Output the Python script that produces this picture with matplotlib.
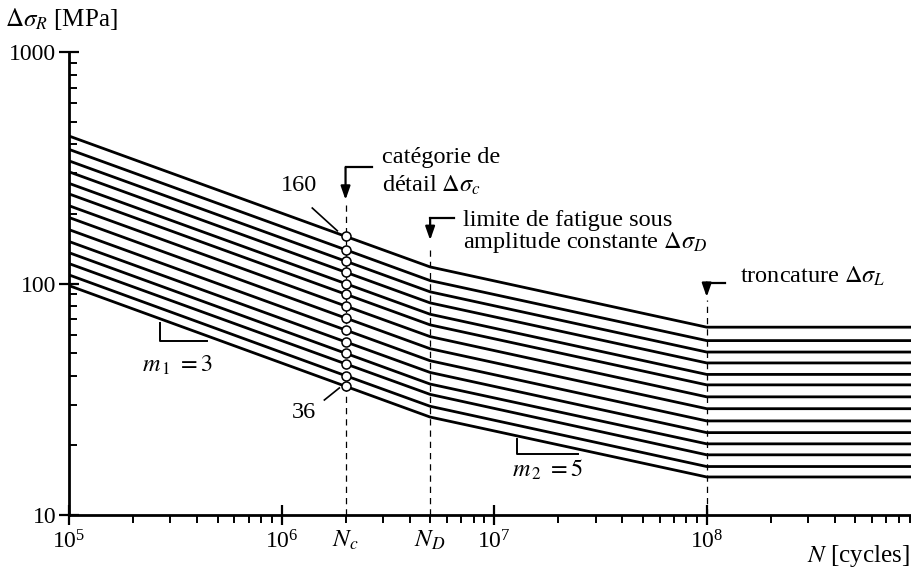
import matplotlib
matplotlib.use("Agg")
import matplotlib.pyplot as plt
from matplotlib.ticker import LogLocator, FixedLocator, FixedFormatter, NullFormatter

plt.rcParams['font.family'] = ['Liberation Serif', 'DejaVu Serif']
plt.rcParams['mathtext.fontset'] = 'stix'

# detail categories and the stress ranges at the curve break points
categories = [160, 140, 125, 112, 100, 90, 80, 71, 63, 56, 50, 45, 40, 36]
sigma_1e5 = [434, 380, 339, 304, 271, 244, 217, 193, 171, 152, 136, 122, 109, 98]
sigma_D = [118, 103, 92.1, 82.5, 73.7, 66.3, 59.0, 52.3, 46.4, 41.3, 36.8, 33.2, 29.5, 26.5]
sigma_L = [64.8, 56.7, 50.6, 45.4, 40.5, 36.5, 32.4, 28.8, 25.5, 22.7, 20.3, 18.2, 16.2, 14.6]
N_break = [1e5, 2e6, 5e6, 1e8, 1e9]
N_c, N_D, N_L = 2e6, 5e6, 1e8

fig = plt.figure(figsize=(9.11, 5.79), dpi=100)
ax = fig.add_axes([0.0757, 0.1105, 0.9243, 0.7995])

for s0, sc, sd, sl in zip(sigma_1e5, categories, sigma_D, sigma_L):
    ax.plot(N_break, [s0, sc, sd, sl, sl], color='black', lw=2.0, solid_joinstyle='round')

ax.plot([N_c] * len(categories), categories, 'o', ms=6.5, mfc='white', mec='black', mew=1.1, zorder=5)

# dashed reference lines
for n, top in [(N_c, 218), (N_D, 147), (N_L, 85)]:
    ax.plot([n, n], [10, top], color='black', lw=0.9, ls=(0, (5, 4)))

# elbow arrows
arrows = [((2.65e6, 318), (N_c, 318), (N_c, 230)),
          ((6.5e6, 192), (N_D, 192), (N_D, 154)),
          ((1.22e8, 101), (N_L, 101), (N_L, 87.5))]
for a, b, c in arrows:
    ax.plot([a[0], b[0]], [a[1], b[1]], color='black', lw=1.6, solid_capstyle='projecting')
    ax.annotate('', xy=c, xytext=b,
                arrowprops=dict(arrowstyle='-|>,head_length=0.8,head_width=0.28',
                                color='black', lw=1.6, mutation_scale=10,
                                shrinkA=0, shrinkB=0))

fs = 17.5
ax.text(2.98e6, 352, 'catégorie de', fontsize=fs, va='center', ha='left')
ax.text(2.98e6, 266, r'détail $\Delta\sigma_c$', fontsize=fs, va='center', ha='left')
ax.text(7.1e6, 188, 'limite de fatigue sous', fontsize=fs, va='center', ha='left')
ax.text(7.1e6, 150, r'amplitude constante $\Delta\sigma_D$', fontsize=fs, va='center', ha='left')
ax.text(1.43e8, 107, r'troncature $\Delta\sigma_L$', fontsize=fs, va='center', ha='left')

ax.text(1.21e6, 266, '160', fontsize=fs, va='center', ha='center')
ax.plot([1.395e6, 1.83e6], [212, 169], color='black', lw=1.2)
ax.text(1.28e6, 27.6, '36', fontsize=fs, va='center', ha='center')
ax.plot([1.59e6, 1.87e6], [31.4, 35.4], color='black', lw=1.2)

# slope triangles
ax.plot([2.68e5, 2.68e5, 4.47e5], [67.5, 56.5, 56.5], color='black', lw=1.4)
ax.text(3.23e5, 44.5, r'$m_{\,1}\ = 3$', fontsize=fs, va='center', ha='center')
ax.plot([1.275e7, 1.275e7, 2.47e7], [21.3, 18.4, 18.4], color='black', lw=1.4)
ax.text(1.78e7, 15.6, r'$m_{\,2}\ = 5$', fontsize=fs, va='center', ha='center')

ax.set_xscale('log')
ax.set_yscale('log')
ax.set_xlim(1e5, 9.14e8)
ax.set_ylim(10, 1000)

for side in ['top', 'right']:
    ax.spines[side].set_visible(False)
for side in ['left', 'bottom']:
    ax.spines[side].set_linewidth(2.0)

ax.xaxis.set_major_locator(LogLocator(base=10))
ax.xaxis.set_minor_locator(LogLocator(base=10, subs=range(2, 10)))
ax.xaxis.set_minor_formatter(NullFormatter())
ax.yaxis.set_major_locator(FixedLocator([10, 100, 1000]))
ax.yaxis.set_major_formatter(FixedFormatter(['10', '100', '1000']))
ax.yaxis.set_minor_locator(LogLocator(base=10, subs=range(2, 10)))
ax.yaxis.set_minor_formatter(NullFormatter())

ax.tick_params(axis='x', which='major', direction='inout', length=14, width=1.6, labelsize=17, pad=4)
ax.tick_params(axis='x', which='minor', direction='out', length=6, width=1.4)
ax.tick_params(axis='y', which='major', direction='inout', length=14, width=1.6, labelsize=17, pad=2)
ax.tick_params(axis='y', which='minor', direction='in', length=6, width=1.4)

tr = ax.get_xaxis_transform()
ax.text(N_c, -0.03, r'$N_c$', transform=tr, fontsize=18, ha='center', va='top')
ax.text(N_D, -0.03, r'$N_D$', transform=tr, fontsize=18, ha='center', va='top')

fig.text(0.999, 0.04, r'$N$ [cycles]', fontsize=18, ha='right', va='center')
fig.text(0.005, 0.968, r'$\Delta\sigma_R$ [MPa]', fontsize=18, ha='left', va='center')

fig.savefig('out.png', dpi=100)
